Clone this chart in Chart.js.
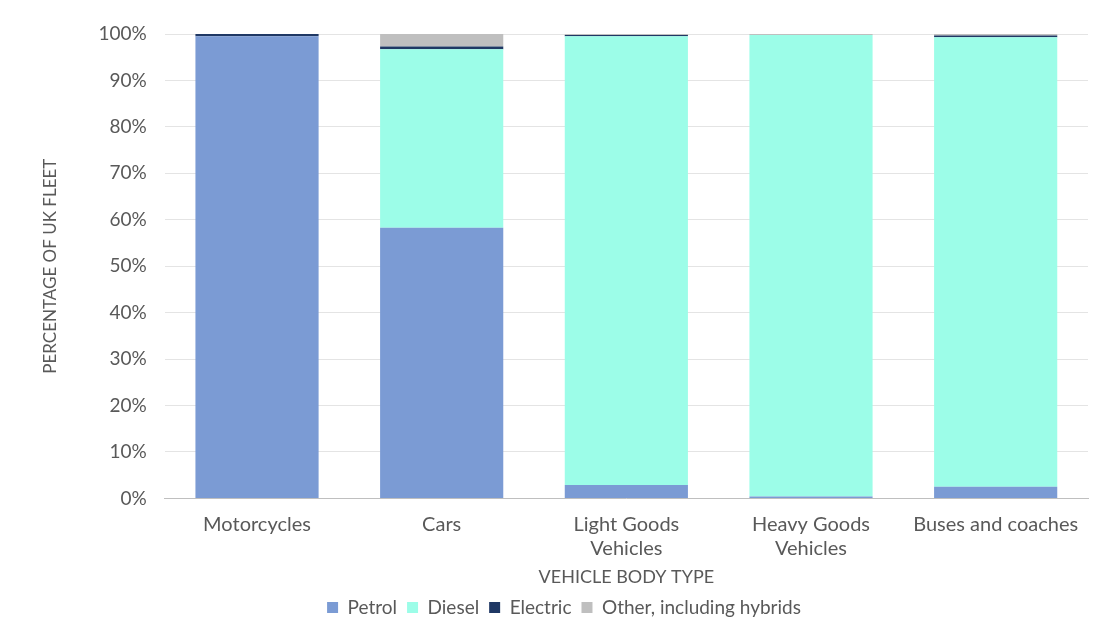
<!DOCTYPE html>
<html>
<head>
<meta charset="utf-8">
<script src="https://cdn.jsdelivr.net/npm/chart.js@4"></script>
<style>
  html, body { margin: 0; padding: 0; background: #fff; }
  #wrap { position: relative; width: 1114px; height: 621px; }
</style>
</head>
<body>
<div id="wrap"><canvas id="chart" width="1114" height="621"></canvas></div>
<script>
// --- Data ---
const categories = ['Motorcycles', 'Cars', ['Light Goods', 'Vehicles'], ['Heavy Goods', 'Vehicles'], 'Buses and coaches'];
const petrol   = [99.5, 58.3, 2.9, 0.4, 2.5];
const diesel   = [0.0, 38.4, 96.6, 99.4, 96.8];
const electric = [0.5, 0.6, 0.3, 0.0, 0.4];
const other    = [0.0, 2.7, 0.2, 0.2, 0.3];

const textColor = '#595959';
const font = 'Lato, "Open Sans", sans-serif';

function ds(label, data, color) {
  return {
    label, data,
    backgroundColor: color,
    borderWidth: 0,
    categoryPercentage: 1,
    barPercentage: 0.667
  };
}

new Chart(document.getElementById('chart').getContext('2d'), {
  type: 'bar',
  data: {
    labels: categories,
    datasets: [
      ds('Petrol', petrol, '#7b9bd4'),
      ds('Diesel', diesel, '#9cfde8'),
      ds('Electric', electric, '#1f3864'),
      ds('Other, including hybrids', other, '#bfbfbf')
    ]
  },
  options: {
    responsive: false,
    animation: false,
    layout: { padding: { left: 40, right: 26, top: 34, bottom: -6 } },
    plugins: {
      legend: {
        position: 'bottom',
        labels: {
          color: textColor,
          font: { family: font, size: 19 },
          boxWidth: 11,
          boxHeight: 11,
          padding: 10
        }
      },
      tooltip: { enabled: false }
    },
    scales: {
      x: {
        stacked: true,
        grid: { display: false },
        border: { color: '#bfbfbf', width: 1 },
        ticks: {
          color: textColor,
          font: { family: font, size: 20, lineHeight: 1.2 },
          maxRotation: 0,
          padding: 6
        },
        title: {
          display: true,
          text: 'VEHICLE BODY TYPE',
          color: textColor,
          font: { family: font, size: 18 },
          padding: { top: 0, bottom: 0 }
        }
      },
      y: {
        stacked: true,
        min: 0,
        max: 100,
        ticks: {
          stepSize: 10,
          color: textColor,
          font: { family: font, size: 19 },
          padding: 18,
          callback: v => v + '%'
        },
        grid: { color: '#e4e4e4', drawTicks: false },
        border: { display: false },
        title: {
          display: true,
          text: 'PERCENTAGE OF UK FLEET',
          color: textColor,
          font: { family: font, size: 17 },
          padding: { top: 0, bottom: 20 }
        }
      }
    }
  }
});
</script>
</body>
</html>
